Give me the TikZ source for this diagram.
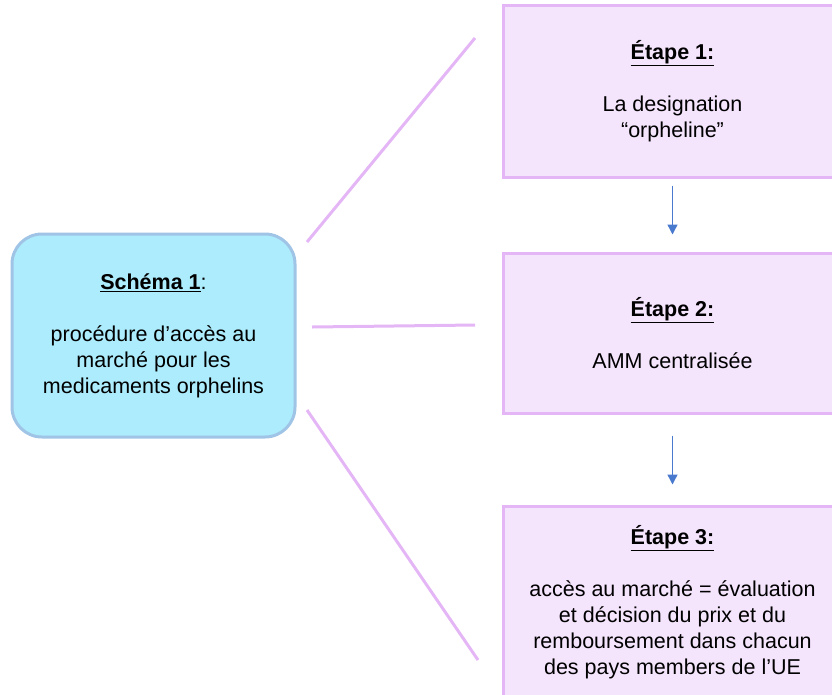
\documentclass[tikz,border=0pt]{standalone}
\usepackage{fontspec}
\setmainfont{Liberation Sans}
\usetikzlibrary{arrows.meta,positioning}

\definecolor{schemafill}{RGB}{172,236,252}
\definecolor{schemaline}{RGB}{160,196,230}
\definecolor{etapefill}{RGB}{244,228,252}
\definecolor{etapeline}{RGB}{228,182,245}
\definecolor{flowblue}{RGB}{74,122,206}

\tikzset{
    schemabox/.style={draw=schemaline, fill=schemafill, line width=3pt, rounded corners=30pt,
        minimum width=283pt, minimum height=203pt, align=center,
        font=\fontsize{21.5}{26}\selectfont},
    etapebox/.style={draw=etapeline, fill=etapefill, line width=3pt,
        minimum width=339pt, align=center, font=\fontsize{21.5}{26}\selectfont},
    branch/.style={draw=etapeline, line width=3pt},
    flow/.style={draw=flowblue, line width=1.4pt, -{Triangle[width=10pt,length=10pt]}}
}

\begin{document}
\begin{tikzpicture}[x=1pt,y=-1pt]
    \useasboundingbox (0,0) rectangle (832,694);  % page size
    \clip (0,0) rectangle (832,694);

    % Left box
    \node[schemabox] (schema) at (153.5,335.5)
        {\underline{\textbf{Schéma 1}}:\\[26pt]
         procédure d’accès au\\ marché pour les\\ medicaments orphelins};

    % Steps on the right (cut by the page edge)
    \node[etapebox, minimum height=172pt] (e1) at (672.5,91)
        {\underline{\textbf{Étape 1:}}\\[26pt] La designation\\ “orpheline”};
    \node[etapebox, minimum height=160pt] (e2) at (672.5,333)
        {\underline{\textbf{Étape 2:}}\\[26pt] AMM centralisée};
    \node[etapebox, minimum height=192pt] (e3) at (672.5,602)
        {\underline{\textbf{Étape 3:}}\\[26pt] accès au marché = évaluation\\
         et décision du prix et du\\ remboursement dans chacun\\ des pays members de l’UE};

    % Branch ends
    \coordinate (b1s) at (307,242);
    \coordinate (b1e) at (475,38);
    \coordinate (b2s) at (312,327);
    \coordinate (b2e) at (475,325);
    \coordinate (b3s) at (307,410);
    \coordinate (b3e) at (478,660);

    \draw[branch] (b1s) -- (b1e);
    \draw[branch] (b2s) -- (b2e);
    \draw[branch] (b3s) -- (b3e);

    % Arrows between steps
    \draw[flow, shorten <=7pt, shorten >=17pt] (e1.south) -- (e2.north);
    \draw[flow, shorten <=21pt, shorten >=20pt] (e2.south) -- (e3.north);
\end{tikzpicture}
\end{document}
